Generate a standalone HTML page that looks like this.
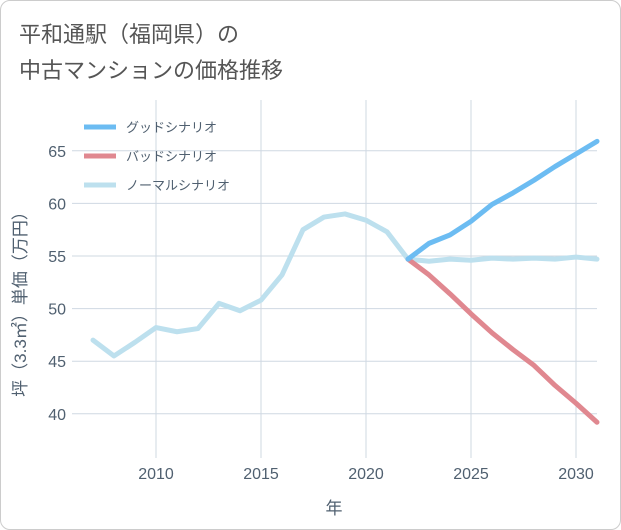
<!DOCTYPE html>
<html><head><meta charset="utf-8"><style>
body{margin:0;background:#fff;}
#wrap{position:relative;width:619px;height:528px;border:1px solid #ccc;border-radius:10px;overflow:hidden;background:#fff;font-family:"Liberation Sans","Noto Sans CJK JP",sans-serif;}
.t{position:absolute;left:18px;font-size:22px;color:#555;}
</style></head><body>
<div id="wrap">
<div class="t" style="top:16px">平和通駅（福岡県）の</div>
<div class="t" style="top:52px">中古マンションの価格推移</div>
<svg id="svg" width="621" height="530" style="position:absolute;left:-1px;top:-1px"></svg>
</div>
<script>
const years=[2007,2008,2009,2010,2011,2012,2013,2014,2015,2016,2017,2018,2019,2020,2021,2022,2023,2024,2025,2026,2027,2028,2029,2030,2031];
const normal=[47.0,45.5,46.8,48.2,47.8,48.1,50.5,49.8,50.8,53.2,57.5,58.7,59.0,58.4,57.3,54.7,54.5,54.7,54.6,54.8,54.7,54.8,54.7,54.9,54.7];
const goodYears=[2022,2023,2024,2025,2026,2027,2028,2029,2030,2031];
const good=[54.7,56.2,57.0,58.3,59.9,61.0,62.2,63.5,64.7,65.9];
const bad=[54.7,53.2,51.4,49.5,47.7,46.1,44.6,42.7,41.0,39.2];
const xTicks=[2010,2015,2020,2025,2030];
const yTicks=[40,45,50,55,60,65];
const L=72,R=597,T=100,B=458;
const x=v=>156+(v-2010)*21;
const y=v=>256-(v-55)*10.52;
const s=document.getElementById('svg');
const NS='http://www.w3.org/2000/svg';
function mk(t,a){const e=document.createElementNS(NS,t);for(const k in a)e.setAttribute(k,a[k]);s.appendChild(e);return e;}
let bg=mk('rect',{x:L,y:T,width:R-L,height:B-T,fill:'#fff'});


xTicks.forEach(t=>{
 let g=mk('line',{x1:x(t),x2:x(t),y1:T,y2:B,stroke:'#cfd8e2','stroke-width':1});
 
 
 let l=mk('text',{x:x(t),y:B+21,'text-anchor':'middle','font-size':16,fill:'#506070'});l.textContent=t;
 
 
});
yTicks.forEach(t=>{
 let g=mk('line',{x1:L,x2:R,y1:y(t),y2:y(t),stroke:'#cfd8e2','stroke-width':1});
 
 
 let l=mk('text',{x:L-6,y:y(t)+6,'text-anchor':'end','font-size':16,fill:'#506070'});l.textContent=t;
 
 
});
function line(xs,vs,c,n){let p=mk('polyline',{points:xs.map((v,i)=>x(v)+','+y(vs[i])).join(' '),fill:'none',stroke:c,'stroke-width':5,'stroke-linejoin':'round','stroke-linecap':'round'});
 
 }
line(years,normal,'#bde0ee','normal-scenario-line');
line(goodYears,bad,'#e08890','bad-scenario-line');
line(goodYears,good,'#6cbcf2','good-scenario-line');
const leg=[['グッドシナリオ','#6cbcf2'],['バッドシナリオ','#e08890'],['ノーマルシナリオ','#bde0ee']];
leg.forEach((d,i)=>{let yy=127+i*29;
 let ln=mk('line',{x1:84,x2:116,y1:yy,y2:yy,stroke:d[1],'stroke-width':5});
 
 
 let t=mk('text',{x:126,y:yy+5,'font-size':13,fill:'#506070'});t.textContent=d[0];
 
 
});
let xt=mk('text',{x:334,y:514,'text-anchor':'middle','font-size':17,fill:'#506070'});xt.textContent='年';


let yt=mk('text',{x:0,y:0,'text-anchor':'middle','font-size':17,fill:'#506070',transform:'translate(26,300) rotate(-90)'});yt.textContent='坪（3.3㎡）単価（万円）';


</script>
</body></html>
